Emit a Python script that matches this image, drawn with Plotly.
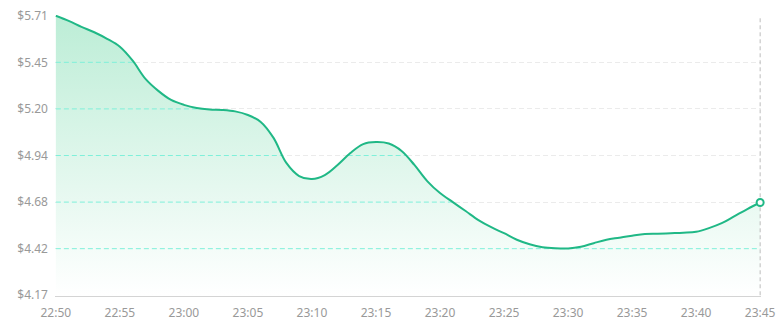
import numpy as np
import pandas as pd
import plotly.graph_objects as go

# ---- data ----
start_time = "2024-01-01 22:50"
end_time = "2024-01-01 23:45"
prices = [
    5.710, 5.682, 5.649, 5.619, 5.583, 5.539, 5.462, 5.362, 5.296, 5.246,
    5.219, 5.202, 5.194, 5.191, 5.183, 5.163, 5.125, 5.037, 4.899, 4.827,
    4.810, 4.832, 4.888, 4.954, 5.003, 5.014, 5.006, 4.965, 4.888, 4.799,
    4.733, 4.683, 4.634, 4.584, 4.545, 4.512, 4.476, 4.451, 4.435, 4.429,
    4.428, 4.437, 4.457, 4.476, 4.487, 4.498, 4.507, 4.509, 4.512, 4.515,
    4.520, 4.540, 4.567, 4.606, 4.645, 4.681,
]
y_tickvals = [4.17, 4.4267, 4.6833, 4.94, 5.1967, 5.4533, 5.71]
y_ticktext = ["$4.17", "$4.42", "$4.68", "$4.94", "$5.20", "$5.45", "$5.71"]
x_tick_step_minutes = 5

times = pd.date_range(start_time, end_time, freq="1min")
p = np.array(prices)
n = len(p)

LINE = "#20b886"
GRAY_GRID = "#ebebeb"
CYAN_GRID = "#7ff0da"
TICK_FONT = dict(family="Noto Sans", size=12, color="#999999")


def inside_runs(g):
    """x positions (minutes) of the parts of level g lying under the curve."""
    xs = []
    above = p >= g
    i = 0
    while i < n:
        if not above[i]:
            i += 1
            continue
        j = i
        while j + 1 < n and above[j + 1]:
            j += 1
        t0 = 0.0 if i == 0 else (i - 1) + (g - p[i - 1]) / (p[i] - p[i - 1])
        t1 = float(n - 1) if j == n - 1 else j + (g - p[j]) / (p[j + 1] - p[j])
        xs += [t0, t1, None]
        i = j + 1
    return xs


fig = go.Figure()

# gradient area (opaque so the gray grid is hidden under it)
fig.add_trace(go.Scatter(
    x=times, y=prices, mode="lines",
    line=dict(color=LINE, width=0, shape="spline", smoothing=1),
    fill="tozeroy",
    fillgradient=dict(type="vertical", start=y_tickvals[0], stop=y_tickvals[-1],
                      colorscale=[[0, "#ffffff"], [1, "#bcedd6"]]),
    hoverinfo="skip", showlegend=False,
))

# cyan grid parts under the curve
for g in y_tickvals[1:-1]:
    runs = inside_runs(g)
    xs = [times[0] + pd.Timedelta(minutes=t) if t is not None else None for t in runs]
    ys = [g if t is not None else None for t in runs]
    fig.add_trace(go.Scatter(
        x=xs, y=ys, mode="lines",
        line=dict(color=CYAN_GRID, width=1, dash="5px,3px"),
        connectgaps=False, hoverinfo="skip", showlegend=False,
    ))

# vertical dashed crosshair at last point
fig.add_trace(go.Scatter(
    x=[times[-1], times[-1]], y=[y_tickvals[0], y_tickvals[-1]], mode="lines",
    line=dict(color="#bdbdbd", width=1, dash="4px,3px"),
    hoverinfo="skip", showlegend=False,
))

# main line
fig.add_trace(go.Scatter(
    x=times, y=prices, mode="lines",
    line=dict(color=LINE, width=2, shape="spline", smoothing=1),
    showlegend=False,
))

# end marker
fig.add_trace(go.Scatter(
    x=[times[-1]], y=[prices[-1]], mode="markers",
    marker=dict(size=7, color="white", line=dict(color=LINE, width=2)),
    cliponaxis=False, showlegend=False,
))

pad_t = pd.Timedelta(seconds=4)
fig.update_layout(
    width=776, height=327,
    margin=dict(l=55, r=15, t=15, b=31),
    paper_bgcolor="white", plot_bgcolor="white",
    xaxis=dict(
        type="date",
        range=[times[0] - pad_t, times[-1] + pad_t],
        tickformat="%H:%M", dtick=x_tick_step_minutes * 60 * 1000,
        tick0=times[0],
        showgrid=False, zeroline=False,
        showline=True, linecolor="#d4d4d4", linewidth=1,
        ticks="", tickfont=TICK_FONT, ticklabelstandoff=6,
        automargin=False,
    ),
    yaxis=dict(
        range=[y_tickvals[0] - 0.004, y_tickvals[-1] + 0.004],
        tickvals=y_tickvals, ticktext=y_ticktext,
        showgrid=True, gridcolor=GRAY_GRID, gridwidth=1, griddash="5px,3px",
        zeroline=False, showline=False,
        ticks="", tickfont=TICK_FONT, ticklabelstandoff=6,
        automargin=False,
    ),
)

fig.write_html("out.html")
